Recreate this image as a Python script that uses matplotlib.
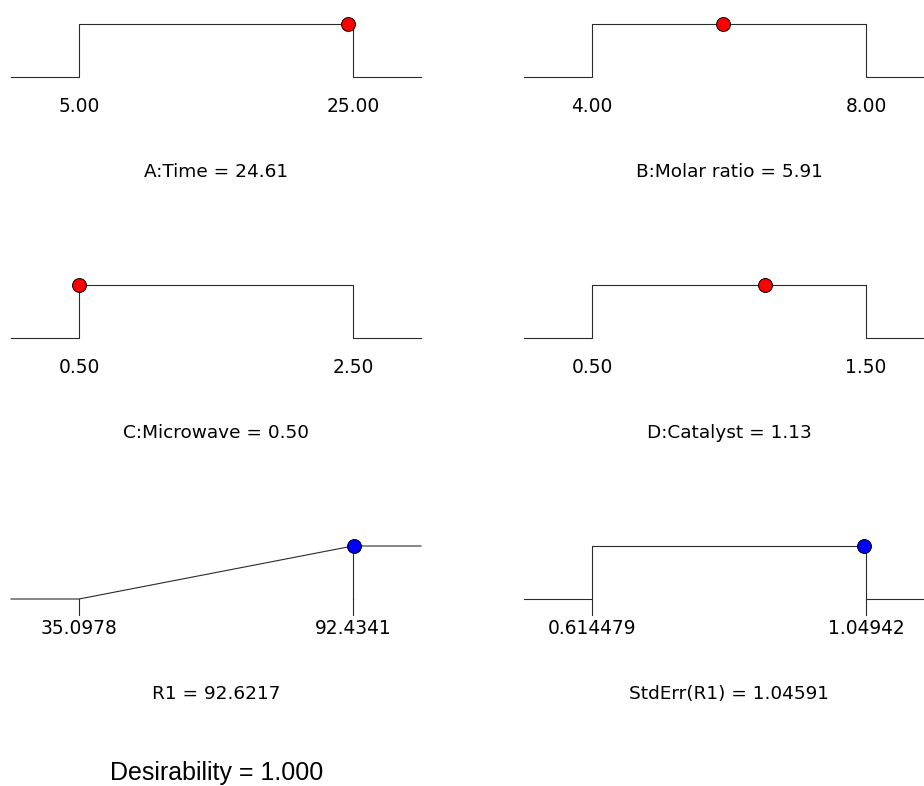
import numpy as np
import matplotlib.pyplot as plt

# factors (top two rows)
factor_names = ['A:Time', 'B:Molar ratio', 'C:Microwave', 'D:Catalyst']
factor_low = [5.00, 4.00, 0.50, 0.50]
factor_high = [25.00, 8.00, 2.50, 1.50]
factor_value = [24.61, 5.91, 0.50, 1.13]
factor_fmt = ['{:.2f}', '{:.2f}', '{:.2f}', '{:.2f}']

# responses (bottom row)
resp_names = ['R1', 'StdErr(R1)']
resp_low = [35.0978, 0.614479]
resp_high = [92.4341, 1.04942]
resp_value = [92.6217, 1.04591]
resp_goal = ['maximize', 'in range']

desirability = 1.000

W, H = 924, 786
LINE = '#2b2b2b'
FONT = 'DejaVu Sans'


def desir(v, lo, hi, goal):
    if goal == 'maximize':
        return float(np.clip((v - lo) / (hi - lo), 0, 1))
    return 1.0 if lo <= v <= hi else 0.0


def make_ax(fig, row, col):
    left = 11 + col * 513
    top = 24 + row * 261
    ax = fig.add_axes([left / W, 1 - (top + 53) / H, 410 / W, 53 / H])
    ax.set_ylim(0, 1)
    ax.axis('off')
    return ax


def draw_panel(ax, name, lo, hi, val, goal, fmt, color, ticks):
    ext = (hi - lo) * 68 / 274
    ax.set_xlim(lo - ext, hi + ext)
    kw = dict(color=LINE, lw=0.8, clip_on=False)
    if goal == 'maximize':
        ax.plot([lo - ext, lo, hi, hi + ext], [0, 0, 1, 1], **kw)
        ax.plot([hi, hi], [1, 0], **kw)
    else:
        ax.plot([lo - ext, lo, lo, hi, hi, hi + ext], [0, 0, 1, 1, 0, 0], **kw)
    if ticks:
        for t in (lo, hi):
            ax.plot([t, t], [0, -0.3], **kw)
    d = desir(val, lo, hi, goal)
    ax.plot([val], [d], 'o', ms=10, mfc=color, mec='black', mew=0.7,
            clip_on=False, zorder=5)
    for t in (lo, hi):
        ax.annotate(fmt.format(t), xy=(t, 0), xytext=(0, -35),
                    textcoords='offset pixels', ha='center', va='baseline',
                    fontsize=13.4, family=FONT)
    ax.annotate('{} = {}'.format(name, fmt.format(val)), xy=(0.5, 0),
                xycoords='axes fraction', xytext=(0, -100),
                textcoords='offset pixels', ha='center', va='baseline',
                fontsize=13.3, family=FONT)


fig = plt.figure(figsize=(W / 100, H / 100), dpi=100)

for i in range(4):
    ax = make_ax(fig, i // 2, i % 2)
    draw_panel(ax, factor_names[i], factor_low[i], factor_high[i],
               factor_value[i], 'in range', factor_fmt[i], 'red', False)

for i in range(2):
    ax = make_ax(fig, 2, i)
    draw_panel(ax, resp_names[i], resp_low[i], resp_high[i], resp_value[i],
               resp_goal[i], '{:g}', 'blue', True)

fig.text(217 / W, 1 - 780 / H, 'Desirability = {:.3f}'.format(desirability),
         ha='center', va='baseline', fontsize=18, family='Liberation Sans')

fig.savefig('out.png', dpi=100)
